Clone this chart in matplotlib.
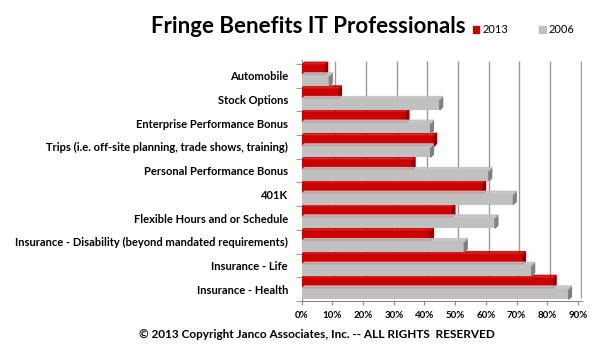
#! /usr/bin/env python3
# Fringe benefits for IT professionals, 2013 vs 2006 (pseudo-3D bar chart)

import matplotlib
matplotlib.use("Agg")
import matplotlib.pyplot as plt
from matplotlib.patches import Polygon
import numpy as np

#########################################################
# Data
#########################################################
categories = [
    "Automobile",
    "Stock Options",
    "Enterprise Performance Bonus",
    "Trips (i.e. off-site planning, trade shows, training)",
    "Personal Performance Bonus",
    "401K",
    "Flexible Hours and or Schedule",
    "Insurance - Disability (beyond mandated requirements)",
    "Insurance - Life",
    "Insurance - Health",
]
vals_2013 = [0.075, 0.12, 0.34, 0.43, 0.36, 0.59, 0.49, 0.42, 0.72, 0.82]
vals_2006 = [0.09, 0.45, 0.42, 0.42, 0.61, 0.69, 0.63, 0.53, 0.75, 0.87]
xticks = [0.0, 0.1, 0.2, 0.3, 0.4, 0.5, 0.6, 0.7, 0.8, 0.9]

RED, RED_SIDE = "#cc0000", "#8b0000"
GREY, GREY_SIDE = "#c0c0c0", "#808080"
FONT = "Lato"
DX, DY = 0.009, 0.12   # fake 3D depth (data units)
H = 0.44

fig = plt.figure(figsize=(6.0, 3.54), dpi=100)
ax = fig.add_axes([0.503, 0.150, 0.467, 0.681])

y = np.arange(len(categories))


def bars3d(vals, offset, face, side):
    for yi, v in zip(y, vals):
        top = yi + offset - H / 2
        bot = yi + offset + H / 2
        ax.barh(yi + offset, v, height=H, color=face, zorder=3)
        # right side face
        ax.add_patch(Polygon([(v, bot), (v + DX, bot - DY), (v + DX, top - DY), (v, top)],
                             closed=True, color=side, zorder=3))
        # top face
        ax.add_patch(Polygon([(0, top), (v, top), (v + DX, top - DY), (DX, top - DY)],
                             closed=True, color=face, alpha=0.85, zorder=3))


bars3d(vals_2013, -0.24, RED, RED_SIDE)
bars3d(vals_2006, 0.21, GREY, GREY_SIDE)

# back wall gridlines, shifted by the depth
ax.vlines([t + DX for t in xticks[1:]], -0.5 - DY, len(categories) - 0.5 - DY,
          color="#999999", lw=1.0, zorder=1)

ax.set_xlim(0, 0.9 + DX * 1.5)
ax.set_ylim(len(categories) - 0.5, -0.5 - DY * 1.5)
ax.set_xticks(xticks)
ax.set_xticklabels(["{:.0f}%".format(t * 100) for t in xticks],
                   fontsize=7, fontweight="bold", family=FONT)
ax.set_yticks(y)
ax.set_yticklabels(categories, fontsize=8, fontweight="bold", family=FONT)
ax.set_yticks(np.arange(len(categories) + 1) - 0.5, minor=True)
ax.tick_params(axis="y", which="major", length=0, pad=10)
ax.tick_params(axis="y", which="minor", length=4, color="#888888")
ax.tick_params(axis="x", length=3, color="#888888", pad=4)

for s in ["top", "right"]:
    ax.spines[s].set_visible(False)
for s in ["left", "bottom"]:
    ax.spines[s].set_color("#888888")

fig.text(0.252, 0.925, "Fringe Benefits IT Professionals", fontsize=16,
         fontweight="bold", family=FONT, va="center")

# legend
fig.patches.append(plt.Rectangle((0.788, 0.907), 0.011, 0.02, color=RED,
                                 transform=fig.transFigure))
fig.text(0.805, 0.917, "2013", fontsize=8, family=FONT, va="center")
fig.patches.append(plt.Rectangle((0.899, 0.907), 0.011, 0.02, color=GREY,
                                 transform=fig.transFigure))
fig.text(0.914, 0.917, "2006", fontsize=8, family=FONT, va="center")

fig.text(0.528, 0.054, "\u00a9 2013 Copyright Janco Associates, Inc. -- ALL RIGHTS  RESERVED",
         fontsize=8.5, fontweight="bold", family=FONT, ha="center", va="center")

plt.savefig("out.png", dpi=100, facecolor="white")
